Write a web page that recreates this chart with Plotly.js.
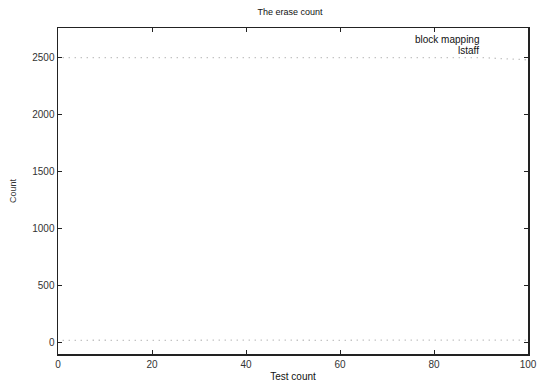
<!DOCTYPE html>
<html><head><meta charset="utf-8">
<script src="https://cdn.plot.ly/plotly-3.0.1.min.js"></script>
<style>html,body{margin:0;padding:0;background:#fff}#c{width:537px;height:389px}</style>
</head><body><div id="c"></div>
<script>
const testCount = [1,5,10,15,20,25,30,35,40,45,50,55,60,65,70,75,80,85,90,95,100];
const blockMapping = [2500,2500,2500,2500,2500,2500,2500,2500,2500,2500,2500,2500,2500,2500,2500,2500,2500,2500,2500,2490,2480];
const lstaff = [15,18,16,14,17,15,16,18,15,17,16,14,15,17,16,15,18,16,15,17,16];
const seriesNames = ['block mapping','lstaff'];
const font = 'Liberation Sans, Arial, sans-serif';

const traces = [
  {x: testCount, y: blockMapping, name: seriesNames[0], mode: 'lines', line: {color: '#a8a8a8', width: 1.3, dash: '1px,5px'}, showlegend: false},
  {x: testCount, y: lstaff, name: seriesNames[1], mode: 'lines', line: {color: '#a8a8a8', width: 1.3, dash: '1px,5px'}, showlegend: false}
];
const axisCommon = {showgrid: false, zeroline: false, showline: true, mirror: 'ticks', linecolor: '#222', linewidth: 1.5,
  ticks: 'inside', ticklen: 4, tickcolor: '#222', tickfont: {family: font, size: 10, color: '#333'}};
const layout = {
  width: 537, height: 389,
  margin: {l: 58, r: 9, t: 28, b: 35},
  paper_bgcolor: '#fff', plot_bgcolor: '#fff',
  title: {text: 'The erase count', font: {family: font, size: 9, color: '#111'}, x: 0.54, xanchor: 'center', y: 0.97, yanchor: 'middle'},
  xaxis: Object.assign({}, axisCommon, {range: [0, 100], tickvals: [0,20,40,60,80,100], ticktext: ['0','20','40','60','80','100'],
    title: {text: 'Test count', font: {family: font, size: 10, color: '#111'}, standoff: 4}}),
  yaxis: Object.assign({}, axisCommon, {range: [-105, 2760], tickvals: [0,500,1000,1500,2000,2500], ticktext: ['0','500','1000','1500','2000','2500'],
    title: {text: 'Count', font: {family: font, size: 9, color: '#333'}, standoff: 14}}),
  annotations: [
    {xref: 'paper', yref: 'paper', x: 0.90, y: 0.966, xanchor: 'right', yanchor: 'middle', showarrow: false, text: seriesNames[0], font: {family: font, size: 10, color: '#111'}},
    {xref: 'paper', yref: 'paper', x: 0.90, y: 0.930, xanchor: 'right', yanchor: 'middle', showarrow: false, text: seriesNames[1], font: {family: font, size: 10, color: '#111'}}
  ]
};
Plotly.newPlot('c', traces, layout, {displayModeBar: false, staticPlot: true});
</script></body></html>
